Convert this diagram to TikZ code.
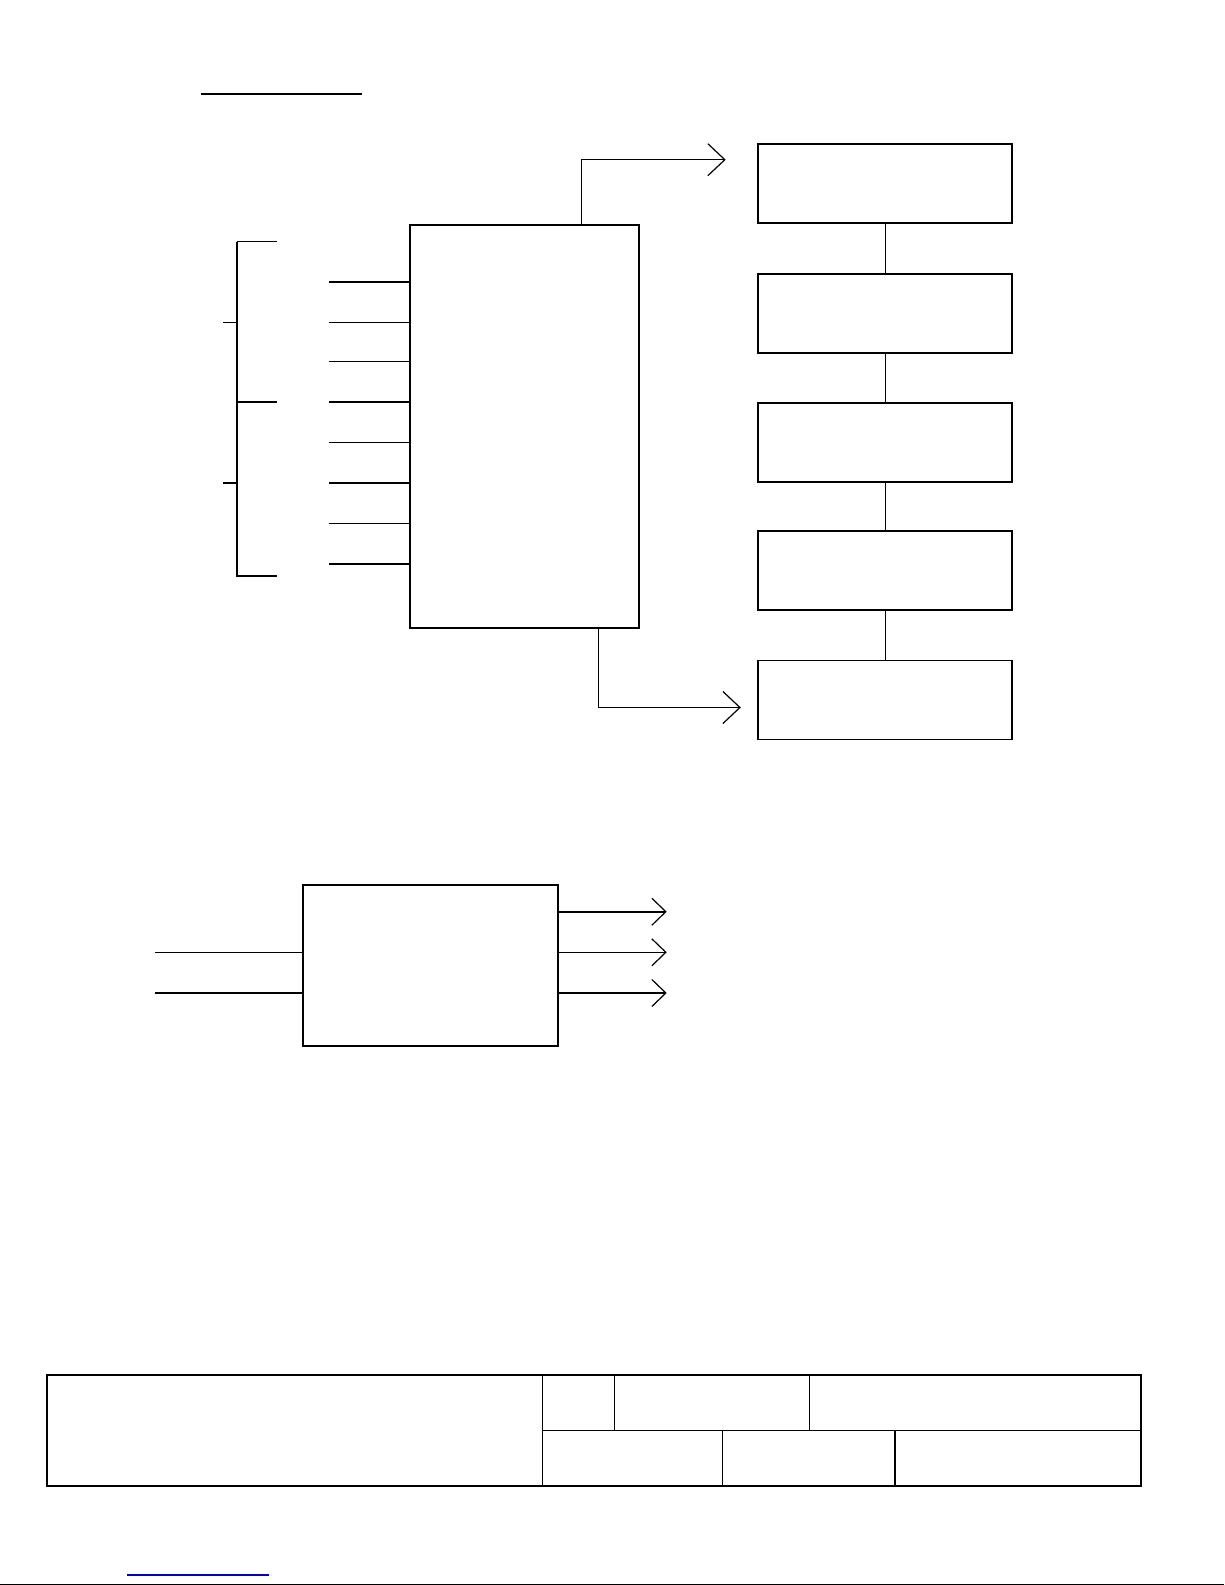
\documentclass[tikz,border=0pt]{standalone}
\usepackage{xcolor}
\usepackage{tikz}
\usetikzlibrary{arrows.meta}
\definecolor{linkblue}{RGB}{0,0,204}
\tikzset{
    blk/.style={draw, line width=0.85pt, inner sep=0pt, minimum width=127pt, minimum height=39.5pt},
    wire/.style={line width=0.5pt},
    wirebold/.style={line width=1pt},
    arrow/.style={-{Straight Barb[length=7pt, width=13.5pt, line width=0.6pt]}},
    arrowbig/.style={-{Straight Barb[length=8.5pt, width=16pt, line width=0.6pt]}},
}

\begin{document}
\begin{tikzpicture}[x=0.5pt, y=-0.5pt]
    \useasboundingbox (0,0) rectangle (1225,1585);
    \draw[wirebold] (201,93.7) -- (361.7,93.7);

    \node[blk, line width=1pt, minimum width=114.25pt, minimum height=201.5pt] (main) at (524.5,426) {};
    \foreach \i/\y in {1/183.5, 2/313.4, 3/442.2, 4/570.6, 5/699.9}
        \node[blk] (r\i) at (885,\y) {};
    \foreach \i [evaluate=\i as \j using int(\i+1)] in {1,...,4}
        \draw[wire] (r\i.south) -- (r\j.north);

    \foreach \y/\s [count=\k] in {281.7/wirebold, 322.3/wire, 361.3/wire, 401.7/wirebold,
                                  442.3/wire, 482.7/wirebold, 523.3/wire, 563.7/wirebold} {
        \coordinate (in\k) at (329.3,\y);
        \draw[\s] (in\k) -- (in\k -| main.west);
    }

    \coordinate (brtop) at (236.7,241.7);
    \coordinate (brmid) at (236.7,401.7);
    \coordinate (brbot) at (236.7,576);
    \coordinate (brup) at (236.7,322.3);
    \coordinate (brlow) at (236.7,482.7);
    \draw[wire] (brtop) -- ++(40,0);
    \draw[wirebold] (brtop) -- (brbot) -- ++(40,0);
    \draw[wirebold] (brmid) -- ++(40,0);
    \draw[wire] (brup) -- ++(-14,0);
    \draw[wirebold] (brlow) -- ++(-14,0);

    \coordinate (tipA) at (725.7,159.7);
    \coordinate (tipB) at (740.8,707.5);
    \draw[wire, arrowbig] ([xshift=-29pt]main.north east) |- (tipA);
    \draw[line width=0.7pt, arrowbig] ([xshift=-20.7pt]main.south east) |- (tipB);

    \node[blk, minimum width=127.5pt, minimum height=80.5pt] (conv) at (430.2,965.5) {};
    \coordinate (cin1) at (155,952.3);
    \coordinate (cin2) at (155,993);
    \draw[wire] (cin1) -- (cin1 -| conv.west);
    \draw[wirebold] (cin2) -- (cin2 -| conv.west);
    \foreach \y/\s [count=\k] in {911.7/wirebold, 952.3/wire, 993/wirebold} {
        \coordinate (cout\k) at (666.7,\y);
        \draw[\s, arrow] (cout\k -| conv.east) -- (cout\k);
    }

    \draw[line width=1.2pt] (46.7,1374.7) rectangle (1140.7,1486);
    \draw[line width=0.75pt] (542.3,1374.7) -- (542.3,1486)
        (542.3,1430.3) -- (1140.7,1430.3)
        (614.7,1374.7) -- (614.7,1430.3)
        (809.3,1374.7) -- (809.3,1430.3)
        (722.3,1430.3) -- (722.3,1486);
    \draw[line width=1pt] (895,1430.3) -- (895,1486);

    \draw[linkblue, line width=0.6pt] (127.3,1575) -- (269,1575);
    \draw[wire] (0,1584) -- (1224,1584);
\end{tikzpicture}
\end{document}
